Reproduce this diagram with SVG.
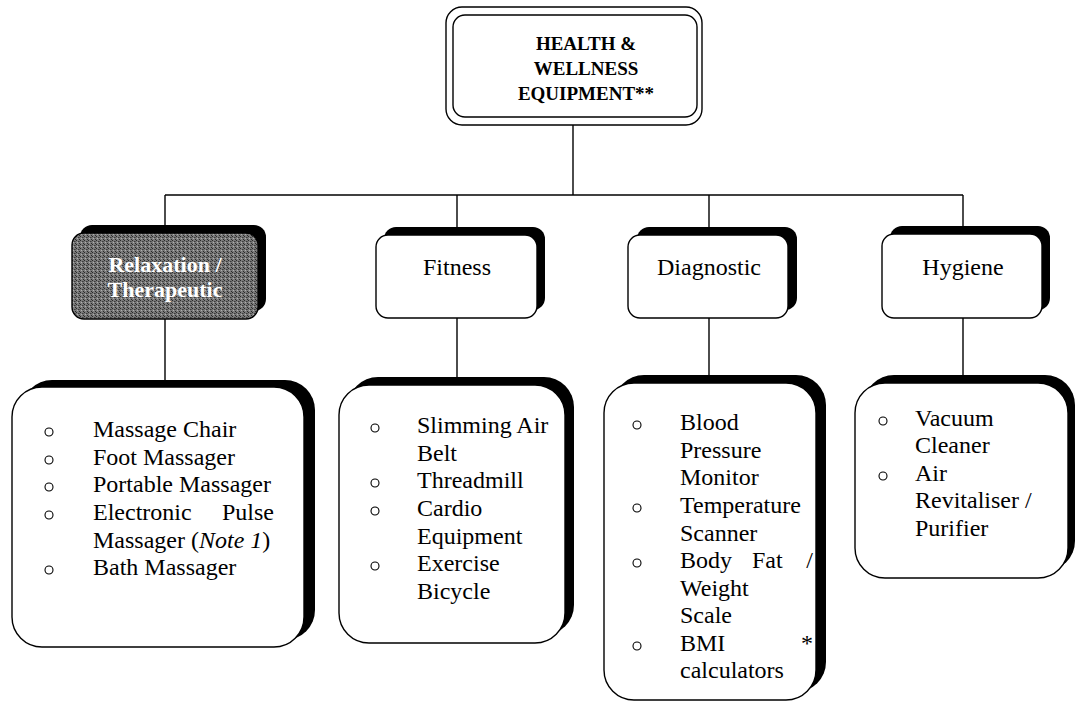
<svg xmlns="http://www.w3.org/2000/svg" width="1086" height="708" viewBox="0 0 1086 708">
<style>
.box{fill:#fff;stroke:#000;stroke-width:1.4}
.sh{fill:#000}
.t{font-family:"Liberation Serif","Times New Roman",serif;font-size:24px;fill:#000}
.h{font-family:"Liberation Serif","Times New Roman",serif;font-size:19px;font-weight:bold;fill:#000}
.w{font-family:"Liberation Serif","Times New Roman",serif;font-size:22px;font-weight:bold;fill:#fff}
.b{fill:none;stroke:#000;stroke-width:1.1}
.c{stroke:#000;stroke-width:1.4;fill:none}
</style>
<defs>
<pattern id="ht" width="4" height="4" patternUnits="userSpaceOnUse">
<rect width="4" height="4" fill="#7a7a7a"/>
<rect x="0" y="0" width="1" height="1" fill="#2a2a2a"/>
<rect x="2" y="1" width="1" height="1" fill="#3a3a3a"/>
<rect x="1" y="2" width="1" height="1" fill="#b0b0b0"/>
<rect x="3" y="3" width="1" height="1" fill="#2a2a2a"/>
<rect x="3" y="1" width="1" height="1" fill="#555"/>
</pattern>
</defs>

<g id="connectors">
<line class="c" x1="573" y1="125" x2="573" y2="195"/>
<line class="c" x1="165" y1="195" x2="963" y2="195"/>
<line class="c" x1="165" y1="195" x2="165" y2="226"/>
<line class="c" x1="457" y1="195" x2="457" y2="227"/>
<line class="c" x1="709" y1="195" x2="709" y2="227"/>
<line class="c" x1="963" y1="195" x2="963" y2="226"/>
<line class="c" x1="165" y1="319" x2="165" y2="380"/>
<line class="c" x1="457" y1="318" x2="457" y2="378"/>
<line class="c" x1="709" y1="318" x2="709" y2="376"/>
<line class="c" x1="963" y1="318" x2="963" y2="376"/>
</g>

<g id="root">
<rect class="box" x="446" y="7" width="256" height="118" rx="16"/>
<rect class="box" x="453" y="15" width="244" height="102" rx="12"/>
<text class="h" x="586" y="50" text-anchor="middle">HEALTH &amp;</text>
<text class="h" x="586" y="75" text-anchor="middle">WELLNESS</text>
<text class="h" x="586" y="100" text-anchor="middle">EQUIPMENT**</text>
</g>

<g id="relaxation">
<rect class="sh" x="80" y="225" width="186" height="86" rx="12"/>
<rect x="72" y="233" width="186" height="86" rx="12" fill="url(#ht)" stroke="#000" stroke-width="1.4"/>
<text class="w" x="165" y="272" text-anchor="middle">Relaxation /</text>
<text class="w" x="165" y="297" text-anchor="middle">Therapeutic</text>
</g>

<g id="fitness">
<rect class="sh" x="384" y="227" width="161" height="83" rx="12"/>
<rect class="box" x="376" y="235" width="161" height="83" rx="12"/>
<text class="t" x="457" y="275" text-anchor="middle">Fitness</text>
</g>

<g id="diagnostic">
<rect class="sh" x="637" y="227" width="160" height="83" rx="12"/>
<rect class="box" x="628" y="235" width="160" height="83" rx="12"/>
<text class="t" x="709" y="275" text-anchor="middle">Diagnostic</text>
</g>

<g id="hygiene">
<rect class="sh" x="890" y="226" width="160" height="84" rx="12"/>
<rect class="box" x="882" y="234" width="160" height="84" rx="12"/>
<text class="t" x="963" y="275" text-anchor="middle">Hygiene</text>
</g>

<g id="relaxation-list">
<rect class="sh" x="22" y="380" width="293" height="260" rx="30"/>
<rect class="box" x="12" y="387" width="292" height="260" rx="30"/>
<circle class="b" cx="49" cy="432" r="4"/>
<circle class="b" cx="49" cy="460" r="4"/>
<circle class="b" cx="49" cy="487" r="4"/>
<circle class="b" cx="49" cy="515" r="4"/>
<circle class="b" cx="49" cy="570" r="4"/>
<text class="t" x="93" y="437">Massage Chair</text>
<text class="t" x="93" y="465">Foot Massager</text>
<text class="t" x="93" y="492">Portable Massager</text>
<text class="t" x="93" y="520">Electronic</text>
<text class="t" x="274" y="520" text-anchor="end">Pulse</text>
<text class="t" x="93" y="548">Massager (<tspan font-style="italic">Note 1</tspan>)</text>
<text class="t" x="93" y="575">Bath Massager</text>
</g>

<g id="fitness-list">
<rect class="sh" x="348" y="377" width="226" height="258" rx="30"/>
<rect class="box" x="339" y="385" width="226" height="258" rx="30"/>
<circle class="b" cx="375" cy="428" r="4"/>
<circle class="b" cx="375" cy="483" r="4"/>
<circle class="b" cx="375" cy="511" r="4"/>
<circle class="b" cx="375" cy="566" r="4"/>
<text class="t" x="417" y="433">Slimming Air</text>
<text class="t" x="417" y="461">Belt</text>
<text class="t" x="417" y="488">Threadmill</text>
<text class="t" x="417" y="516">Cardio</text>
<text class="t" x="417" y="544">Equipment</text>
<text class="t" x="417" y="571">Exercise</text>
<text class="t" x="417" y="599">Bicycle</text>
</g>

<g id="diagnostic-list">
<rect class="sh" x="614" y="375" width="212" height="317" rx="30"/>
<rect class="box" x="604" y="383" width="212" height="317" rx="30"/>
<circle class="b" cx="637" cy="425" r="4"/>
<circle class="b" cx="637" cy="508" r="4"/>
<circle class="b" cx="637" cy="563" r="4"/>
<circle class="b" cx="637" cy="646" r="4"/>
<text class="t" x="680" y="430">Blood</text>
<text class="t" x="680" y="458">Pressure</text>
<text class="t" x="680" y="485">Monitor</text>
<text class="t" x="680" y="513">Temperature</text>
<text class="t" x="680" y="541">Scanner</text>
<text class="t" x="680" y="568">Body</text>
<text class="t" x="752" y="568">Fat</text>
<text class="t" x="813" y="568" text-anchor="end">/</text>
<text class="t" x="680" y="596">Weight</text>
<text class="t" x="680" y="623">Scale</text>
<text class="t" x="680" y="651">BMI</text>
<text class="t" x="813" y="651" text-anchor="end">*</text>
<text class="t" x="680" y="678">calculators</text>
</g>

<g id="hygiene-list">
<rect class="sh" x="864" y="375" width="211" height="196" rx="30"/>
<rect class="box" x="855" y="383" width="213" height="195" rx="30"/>
<circle class="b" cx="883" cy="421" r="4"/>
<circle class="b" cx="883" cy="476" r="4"/>
<text class="t" x="915" y="426">Vacuum</text>
<text class="t" x="915" y="453">Cleaner</text>
<text class="t" x="915" y="481">Air</text>
<text class="t" x="915" y="508">Revitaliser /</text>
<text class="t" x="915" y="536">Purifier</text>
</g>
</svg>
